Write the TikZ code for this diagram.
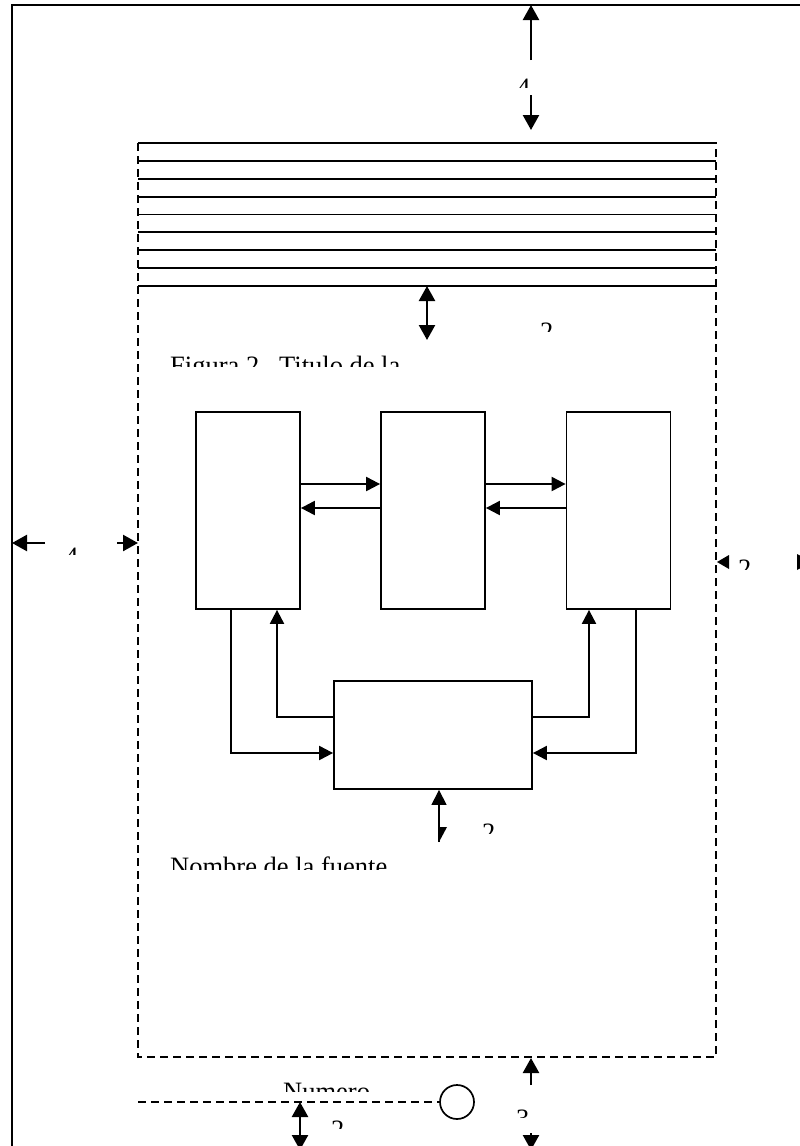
\documentclass[tikz,border=0pt]{standalone}
\usepackage{fontspec}
\setmainfont{Liberation Serif}
\usetikzlibrary{arrows.meta}
\newcommand\clippedlabel[5]{%
  \begin{scope}
    \clip (#2-3,#3-40) rectangle (#2+300,#4);
    \node[lbl,anchor=base west] (#1) at (#2,#3) {#5};
  \end{scope}}
\begin{document}
\begin{tikzpicture}[x=1pt,y=-1pt,
  frameline/.style={line width=1.8pt},
  hline/.style={line width=1.9pt},
  dashbox/.style={line width=1.7pt, dash pattern=on 8pt off 5pt},
  blk/.style={draw, line width=1.8pt, inner sep=0pt},
  barr/.style={line width=2.1pt, -{Triangle[length=14pt,width=14pt]}},
  darr/.style={line width=2.4pt, -{Triangle[length=15pt,width=16pt]}},
  lbl/.style={inner sep=0pt, font=\fontsize{26.5}{30}\selectfont}]
\useasboundingbox (0,0) rectangle (800,1146);
\fill[white] (0,0) rectangle (800,1146);
\clip (0,0) rectangle (800,1146);
% outer page frame
\draw[frameline] (12,1170) -- (12,5) -- (820,5);
% dashed text area
\draw[dashbox] (138,143) rectangle (716,1057);
% header lines
\foreach \i in {0,...,8}{
  \draw[hline] (138,143+\i*17.875) -- (716,143+\i*17.875);
}
% top margin arrow
\coordinate (t1) at (531,60);
\coordinate (t2) at (531,5);
\coordinate (t3) at (531,95);
\coordinate (t4) at (531,130);
\draw[darr] (t1) -- (t2);
\draw[darr] (t3) -- (t4);
\clippedlabel{l4top}{517}{96}{87}{4}
% arrow under lines
\coordinate (u1) at (427,286);
\coordinate (u2) at (427,340);
\draw[darr, {Triangle[length=15pt,width=16pt]}-{Triangle[length=15pt,width=16pt]}] (u1) -- (u2);
\clippedlabel{l2a}{540}{340}{331}{2}
\clippedlabel{title}{170}{374}{366}{Figura 2.\ \ Titulo de la}
% left margin arrow
\coordinate (lm1) at (45,543);
\coordinate (lm2) at (12,543);
\coordinate (lm3) at (117,543);
\coordinate (lm4) at (138,543);
\draw[darr] (lm1) -- (lm2);
\draw[darr] (lm3) -- (lm4);
\clippedlabel{l4left}{65}{565}{554}{4}
% right margin arrow
\coordinate (rm1) at (729,562);
\coordinate (rm2) at (717,562);
\coordinate (rm3) at (797,562);
\coordinate (rm4) at (812,562);
\fill (rm2) -- (rm1 |- 0,555) -- (rm1 |- 0,569) -- cycle;
\fill (rm4) -- (rm3 |- 0,554) -- (rm3 |- 0,570) -- cycle;
\clippedlabel{l2right}{738}{577}{569}{2}
% blocks
\node[blk, minimum width=104pt, minimum height=197pt] (A) at (248,510.5) {};
\node[blk, minimum width=104pt, minimum height=197pt] (B) at (433,510.5) {};
\node[blk, minimum width=104pt, minimum height=197pt] (C) at (618.5,510.5) {};
\node[blk, minimum width=198pt, minimum height=108pt] (D) at (433,735) {};
\draw[barr] (A.east |- 0,484) -- (B.west |- 0,484);
\draw[barr] (B.west |- 0,508) -- (A.east |- 0,508);
\draw[barr] (B.east |- 0,484) -- (C.west |- 0,484);
\draw[barr] (C.west |- 0,508) -- (B.east |- 0,508);
\draw[barr] (A.south -| 231,0) |- (D.west |- 0,753);
\draw[barr] (D.west |- 0,717) -| (A.south -| 277,0);
\draw[barr] (D.east |- 0,717) -| (C.south -| 589,0);
\draw[barr] (C.south -| 636,0) |- (D.east |- 0,753);
% arrow under D
\coordinate (dd) at (439,842);
\draw[line width=1.2pt, -{Triangle[length=15pt,width=15pt]}] (dd) -- (D.south -| dd);
\fill (439,827) -- (447,827) -- (dd) -- cycle;
\clippedlabel{l2b}{482}{841}{833}{2}
\clippedlabel{source}{170}{875.5}{869}{Nombre de la fuente}
% bottom
\node[draw, circle, line width=1.7pt, minimum size=34pt, inner sep=0pt] (circ) at (457,1102) {};
\coordinate (bl) at (138,1102);
\draw[dashbox] (bl) -- (circ.west);
\clippedlabel{numero}{283}{1100.5}{1091}{Numero}
\coordinate (b1) at (531,1085);
\coordinate (b2) at (531,1058);
\coordinate (b3) at (531,1133);
\coordinate (b4) at (531,1150);
\draw[darr] (b1) -- (b2);
\draw[darr] (b3) -- (b4);
\clippedlabel{l3}{516}{1127.5}{1117}{3}
\coordinate (c1) at (300,1102);
\coordinate (c2) at (300,1150);
\draw[darr, {Triangle[length=15pt,width=16pt]}-{Triangle[length=15pt,width=16pt]}] (c2) -- (c1);
\clippedlabel{l2c}{331}{1138}{1128}{2}
\end{tikzpicture}
\end{document}
